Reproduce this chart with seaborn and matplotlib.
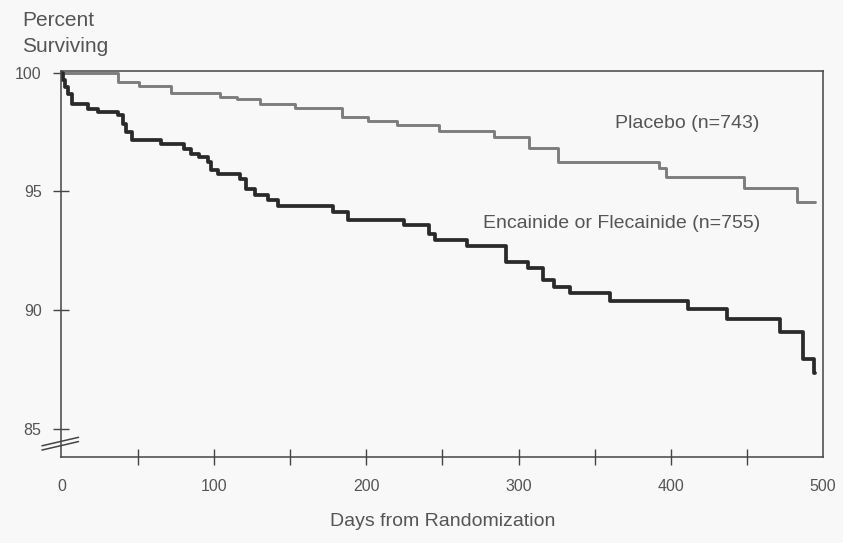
import numpy as np
import pandas as pd
import seaborn as sns
import matplotlib.pyplot as plt
from matplotlib.ticker import MultipleLocator

# Kaplan-Meier style survival steps
placebo_days = [0, 37, 51, 72, 104, 115, 130, 153, 184, 201, 220, 248, 284,
                307, 326, 392, 397, 448, 483, 495]
placebo_pct = [100, 99.6, 99.45, 99.17, 99.0, 98.9, 98.68, 98.54, 98.14,
               97.96, 97.79, 97.55, 97.31, 96.82, 96.26, 95.98, 95.6, 95.13,
               94.57, 94.57]

drug_days = [0, 1, 2, 4, 7, 17, 24, 37, 40, 42.5, 46, 65.5, 80, 85, 90, 96,
             98, 102.5, 117, 121, 127, 135.6, 142, 178, 188, 225, 241, 245,
             266, 292, 306, 316, 323, 334, 360, 411.5, 436.7, 472, 487, 494,
             495]
drug_pct = [100, 99.7, 99.4, 99.1, 98.7, 98.49, 98.35, 98.21, 97.86, 97.51,
            97.16, 97.02, 96.8, 96.6, 96.45, 96.24, 95.9, 95.75, 95.54, 95.12,
            94.84, 94.63, 94.39, 94.14, 93.78, 93.57, 93.22, 92.94, 92.7,
            92.04, 91.76, 91.27, 90.96, 90.73, 90.39, 90.03, 89.61, 89.08,
            87.92, 87.33, 87.33]

placebo_label = "Placebo (n=743)"
drug_label = "Encainide or Flecainide (n=755)"
x_ticks = [0, 100, 200, 300, 400, 500]
y_ticks = [85, 90, 95, 100]

sns.set_style("ticks")
plt.rcParams['font.family'] = ['Liberation Sans', 'DejaVu Sans']

bg = "#f8f8f8"
ink = "#555555"
fig = plt.figure(figsize=(8.43, 5.43), dpi=100, facecolor=bg)
ax = fig.add_axes([61 / 843, 1 - 457 / 543, 762 / 843, 386 / 543])
ax.set_facecolor(bg)

placebo = pd.DataFrame({"day": placebo_days, "pct": placebo_pct})
drug = pd.DataFrame({"day": drug_days, "pct": drug_pct})

sns.lineplot(data=placebo, x="day", y="pct", ax=ax, color="#7d7d7d",
             linewidth=2.1, drawstyle="steps-post", estimator=None)
sns.lineplot(data=drug, x="day", y="pct", ax=ax, color="#2a2a2a",
             linewidth=2.7, drawstyle="steps-post", estimator=None)

ax.set_xlim(-0.5, 500)
ax.set_ylim(83.8, 100.08)

ax.set_xticks(x_ticks)
ax.xaxis.set_minor_locator(MultipleLocator(50))
ax.set_yticks(y_ticks)
ax.tick_params(axis="both", which="both", direction="inout", length=12,
               width=1.0, color="#444444", labelsize=11.5, labelcolor=ink)
ax.tick_params(axis="x", pad=10)
ax.tick_params(axis="y", pad=8)
ax.xaxis.get_major_ticks()[0].tick1line.set_visible(False)
ax.xaxis.get_major_ticks()[-1].tick1line.set_visible(False)

for side in ["top", "right", "left", "bottom"]:
    ax.spines[side].set_visible(True)
    ax.spines[side].set_color("#444444")
    ax.spines[side].set_linewidth(1.1)

ax.set_xlabel("")
ax.set_ylabel("")

# axis break marks on the y axis
for y0, y1 in [(0.018, 0.040), (0.029, 0.051)]:
    ax.plot([-0.025, 0.023], [y0, y1], transform=ax.transAxes, color="#444444",
            linewidth=1.1, clip_on=False)

ax.text(411, 97.85, placebo_label, ha="center", va="center",
        fontsize=14, color=ink)
ax.text(368, 93.63, drug_label, ha="center", va="center",
        fontsize=14, color=ink)

fig.text(22 / 843, 1 - 20 / 543, "Percent", ha="left", va="center",
         fontsize=15, color=ink)
fig.text(22 / 843, 1 - 47 / 543, "Surviving", ha="left", va="center",
         fontsize=15, color=ink)
fig.text(443 / 843, 1 - 521 / 543, "Days from Randomization", ha="center",
         va="center", fontsize=14, color=ink)

fig.savefig("out.png", dpi=100, facecolor=bg)
